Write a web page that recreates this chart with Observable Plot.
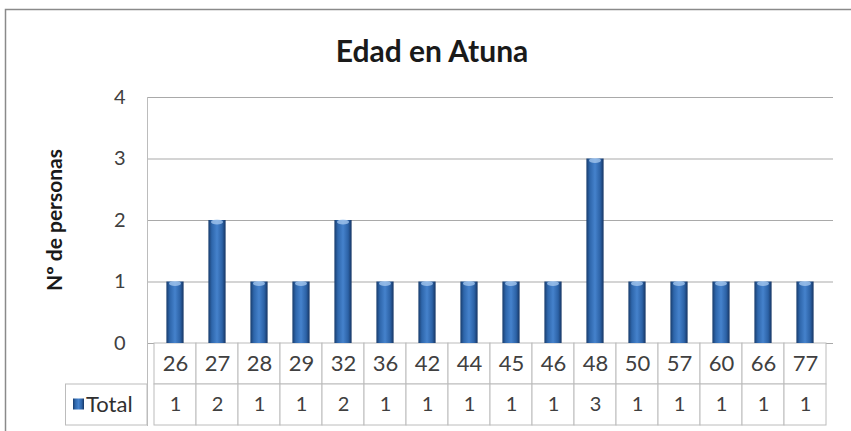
<!DOCTYPE html>
<html><head><meta charset="utf-8">
<script src="https://cdn.jsdelivr.net/npm/d3@7"></script>
<script src="https://cdn.jsdelivr.net/npm/@observablehq/plot@0.6"></script>
<style>body{margin:0;background:#fff;} svg{display:block}</style>
</head><body><div id="chart"></div>
<script>
const title = "Edad en Atuna";
const yLabel = "Nº de personas";
const seriesName = "Total";
const ages = ["26","27","28","29","32","36","42","44","45","46","48","50","57","60","66","77"];
const counts = [1,2,1,1,2,1,1,1,1,1,3,1,1,1,1,1];
const yTicks = [0,1,2,3,4];

const data = ages.map((a, i) => ({age: a, count: counts[i]}));
const rowH = 2/3; // each data-table row spans 2/3 of a y unit
const font = "Lato, 'Open Sans', sans-serif";
const txt = "#404040";
const lineCol = "#bcbcbc";

const plot = Plot.plot({
  width: 851, height: 431,
  marginLeft: 147, marginRight: 18, marginTop: 97, marginBottom: 6,
  style: {fontFamily: font, background: "transparent"},
  x: {type: "band", domain: ages, padding: 0, axis: null},
  y: {domain: [-2 * rowH, 4], axis: null},
  marks: [
    Plot.ruleY(yTicks, {stroke: "#a9a9a9", strokeWidth: 1}),
    Plot.frame({anchor: "left", stroke: lineCol}),
    Plot.barY(data, {x: "age", y1: -rowH, y2: 0, fill: "white", stroke: lineCol}),
    Plot.barY(data, {x: "age", y1: -2 * rowH, y2: -rowH, fill: "white", stroke: lineCol}),
    Plot.barY(data, {x: "age", y: "count", fill: "url(#barGrad)", insetLeft: 12.4, insetRight: 12.4}),
    Plot.text(data, {x: "age", y: -rowH / 2, text: "age", fontSize: 22, fill: txt}),
    Plot.text(data, {x: "age", y: -1.5 * rowH, text: d => String(d.count), fontSize: 20, fill: txt}),
    Plot.axisY(yTicks, {tickSize: 0, tickPadding: 22, fontSize: 20, fill: txt, label: null, tickFormat: "d"})
  ]
});

const svg = d3.select(plot);
const defs = svg.insert("defs", ":first-child");
const g = defs.append("linearGradient").attr("id", "barGrad").attr("x1", "0").attr("x2", "1").attr("y1", "0").attr("y2", "0");
[["0%", "#183c6c"], ["20%", "#2e66ab"], ["50%", "#4582cc"], ["80%", "#2c62a6"], ["100%", "#163563"]]
  .forEach(([o, c]) => g.append("stop").attr("offset", o).attr("stop-color", c));

const xs = plot.scale("x");
const ys = plot.scale("y");

// cylinder cap highlights at bar tops
svg.append("g").selectAll("ellipse").data(data).join("ellipse")
  .attr("cx", d => xs.apply(d.age) + xs.bandwidth / 2)
  .attr("cy", d => ys.apply(d.count) + 2)
  .attr("rx", 6).attr("ry", 2.5)
  .attr("fill", "#a9cbf0").attr("opacity", 0.75);

const yTop = ys.apply(-rowH), yBot = ys.apply(-2 * rowH);

// chart frame
svg.append("rect").attr("x", 5.5).attr("y", 9.5).attr("width", 900).attr("height", 500)
  .attr("fill", "none").attr("stroke", "#8a8a8a").attr("stroke-width", 1.5);

// legend cell of the data table
svg.append("rect").attr("x", 65.5).attr("y", yTop).attr("width", 147 - 65.5).attr("height", yBot - yTop)
  .attr("fill", "none").attr("stroke", lineCol);
svg.append("rect").attr("x", 73).attr("y", (yTop + yBot) / 2 - 6).attr("width", 11).attr("height", 11)
  .attr("fill", "url(#barGrad)");
svg.append("text").attr("x", 86).attr("y", (yTop + yBot) / 2).attr("dy", "0.35em")
  .attr("text-anchor", "start")
  .attr("font-family", font).attr("font-size", 22).attr("fill", "#303030").text(seriesName);

// title
svg.append("text").attr("x", 432).attr("y", 62).attr("text-anchor", "middle")
  .attr("font-family", font).attr("font-weight", "bold").attr("font-size", 30).attr("fill", "#1a1a1a").text(title);

// y label
svg.append("text").attr("transform", `translate(62,${ys.apply(2)}) rotate(-90)`).attr("text-anchor", "middle")
  .attr("font-family", font).attr("font-weight", "bold").attr("font-size", 21).attr("fill", "#1a1a1a").text(yLabel);

document.getElementById("chart").appendChild(plot);
</script>
</body></html>
